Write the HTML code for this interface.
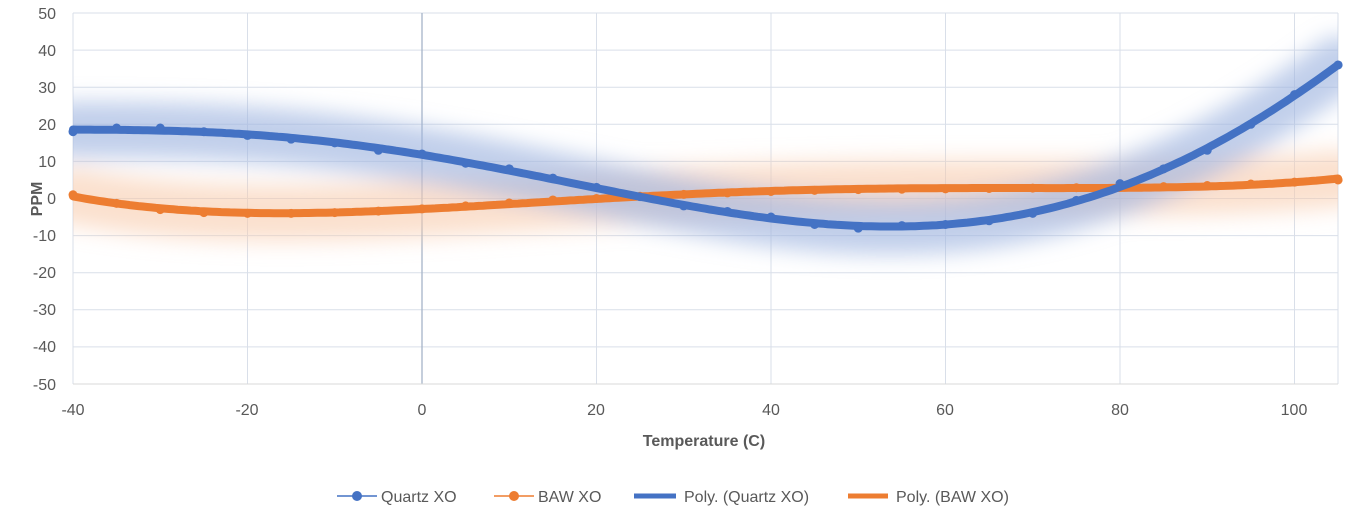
<!DOCTYPE html>
<html><head><meta charset="utf-8"><style>
html,body{margin:0;padding:0;background:#fff;width:1350px;height:515px;overflow:hidden}
svg text{font-family:"Liberation Sans",sans-serif;fill:#595959}
</style></head><body>
<svg id="s" width="1350" height="515" xmlns="http://www.w3.org/2000/svg">
<defs>
<filter id="b" x="-10%" y="-50%" width="120%" height="200%"><feGaussianBlur stdDeviation="11"/></filter>
<clipPath id="cp"><rect x="73" y="13" width="1265" height="371"/></clipPath>
</defs>
<g id="grid" stroke="#d9dfe9" stroke-width="1"></g>
<line x1="422" y1="13" x2="422" y2="384" stroke="#a6b4c8" stroke-width="1.3"/>
<line x1="73" y1="384" x2="1338" y2="384" stroke="#d9d9d9"/>
<g clip-path="url(#cp)"><g id="glow" filter="url(#b)"></g></g>
<g id="lines"></g>
<g font-size="16" text-anchor="end">
<text x="56" y="19">50</text><text x="56" y="56">40</text><text x="56" y="93">30</text><text x="56" y="130">20</text><text x="56" y="167">10</text><text x="56" y="204">0</text><text x="56" y="241">-10</text><text x="56" y="278">-20</text><text x="56" y="315">-30</text><text x="56" y="352">-40</text><text x="56" y="390">-50</text>
</g>
<g font-size="16" text-anchor="middle">
<text x="73" y="415">-40</text><text x="247" y="415">-20</text><text x="422" y="415">0</text><text x="596" y="415">20</text><text x="771" y="415">40</text><text x="945" y="415">60</text><text x="1120" y="415">80</text><text x="1294" y="415">100</text>
</g>
<text x="704" y="446" font-size="16" font-weight="bold" text-anchor="middle">Temperature (C)</text>
<text transform="translate(42,199) rotate(-90)" font-size="16" font-weight="bold" text-anchor="middle">PPM</text>
<g font-size="16">
<line x1="337" y1="496" x2="377" y2="496" stroke="#4472c4" stroke-width="1.5"/><circle cx="357" cy="496" r="5" fill="#4472c4"/><text x="381" y="502">Quartz XO</text>
<line x1="494" y1="496" x2="534" y2="496" stroke="#ed7d31" stroke-width="1.5"/><circle cx="514" cy="496" r="5" fill="#ed7d31"/><text x="538" y="502">BAW XO</text>
<line x1="634" y1="496" x2="676" y2="496" stroke="#4472c4" stroke-width="5"/><text x="684" y="502">Poly. (Quartz XO)</text>
<line x1="848" y1="496" x2="888" y2="496" stroke="#ed7d31" stroke-width="5"/><text x="896" y="502">Poly. (BAW XO)</text>
</g>
</svg>
<script>
var NS="http://www.w3.org/2000/svg";
function X(t){return 422+t*8.725}function Y(v){return 198.5-v*3.71}
var g=document.getElementById('grid');
for(var t=-20;t<=100;t+=20){if(t==0)continue;var l=document.createElementNS(NS,'line');l.setAttribute('x1',X(t));l.setAttribute('x2',X(t));l.setAttribute('y1',13);l.setAttribute('y2',384);g.appendChild(l);}
[73,1338].forEach(function(x){var l=document.createElementNS(NS,'line');l.setAttribute('x1',x);l.setAttribute('x2',x);l.setAttribute('y1',13);l.setAttribute('y2',384);g.appendChild(l);});
for(var v=-40;v<=50;v+=10){var l=document.createElementNS(NS,'line');l.setAttribute('x1',73);l.setAttribute('x2',1338);l.setAttribute('y1',Y(v));l.setAttribute('y2',Y(v));g.appendChild(l);}
var T=[];for(var t=-40;t<=105;t+=5)T.push(t);
var Q=[18,19,19,18,17,16,15,13,12,9.5,8,5.5,3,0.5,-2,-3.5,-5,-7,-8,-7.3,-7,-6,-4,-0.5,4,8,13,20,28,36];
var B=[1,-1.3,-3,-3.8,-4,-4,-3.8,-3.4,-2.8,-2,-1.2,-0.4,0,0.6,1.1,1.5,1.9,2.2,2.4,2.5,2.6,2.7,2.8,2.9,3,3.2,3.5,3.9,4.4,5];
function fit(V,deg){var n=deg+1,A=[],b=[];for(var i=0;i<n;i++){A.push(new Array(n).fill(0));b.push(0);}
T.forEach(function(t,k){var u=t/50;for(var i=0;i<n;i++){b[i]+=V[k]*Math.pow(u,i);for(var j=0;j<n;j++)A[i][j]+=Math.pow(u,i+j);}});
for(var i=0;i<n;i++){for(var r=i+1;r<n;r++){var f=A[r][i]/A[i][i];for(var c=i;c<n;c++)A[r][c]-=f*A[i][c];b[r]-=f*b[i];}}
var x=new Array(n).fill(0);for(var i=n-1;i>=0;i--){var s=b[i];for(var c=i+1;c<n;c++)s-=A[i][c]*x[c];x[i]=s/A[i][i];}
return function(t){var u=t/50,s=0;for(var i=0;i<n;i++)s+=x[i]*Math.pow(u,i);return s;};}
function trend(V,deg){var f=fit(V,deg),d='';for(var t=-40;t<=105.01;t+=0.5){d+=(d?' L':'M')+X(t).toFixed(1)+','+Y(f(t)).toFixed(1);}return d;}
function poly(V){return T.map(function(t,i){return (i?'L':'M')+X(t)+','+Y(V[i]);}).join(' ');}
function add(par,d,c,w,o){var e=document.createElementNS(NS,'path');e.setAttribute('d',d);e.setAttribute('fill','none');e.setAttribute('stroke',c);e.setAttribute('stroke-width',w);e.setAttribute('stroke-opacity',o);e.setAttribute('stroke-linecap','round');par.appendChild(e);}
var gl=document.getElementById('glow'),ln=document.getElementById('lines');
var tq=trend(Q,5),tb=trend(B,4);
add(gl,tb,'#f8cbad',56,0.6);add(gl,tq,'#9fb6e0',56,0.65);
add(ln,poly(B),'#ed7d31',1.5,1);add(ln,poly(Q),'#4472c4',1.5,1);
T.forEach(function(t,i){[[B,'#ed7d31'],[Q,'#4472c4']].forEach(function(s){var c=document.createElementNS(NS,'circle');c.setAttribute('cx',X(t));c.setAttribute('cy',Y(s[0][i]));c.setAttribute('r',4.5);c.setAttribute('fill',s[1]);ln.appendChild(c);});});
add(ln,tb,'#ed7d31',8,1);add(ln,tq,'#4472c4',8,1);
</script>
</body></html>
